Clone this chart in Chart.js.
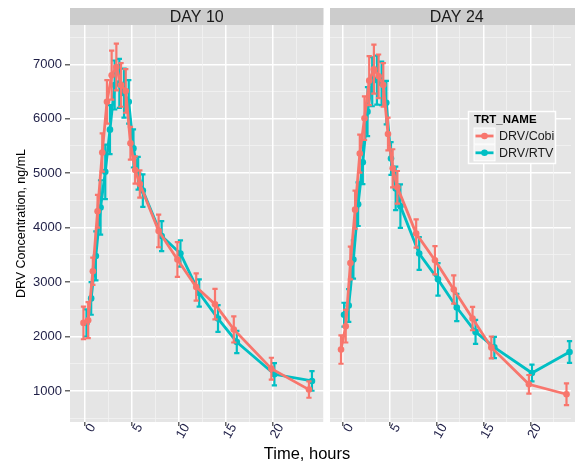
<!DOCTYPE html>
<html><head><meta charset="utf-8">
<script src="https://cdn.jsdelivr.net/npm/chart.js@4/dist/chart.umd.min.js"></script>
<style>html,body{margin:0;padding:0;background:#fff;}canvas{display:block;}</style>
</head><body>
<canvas id="c" width="575" height="461"></canvas>
<script>
// ---- data ----
const TIMES = [0,0.5,1,1.5,2,2.5,3,3.5,4,4.5,5,5.5,6,8,10,12,14,16,20,24];
const PANELS = ['DAY 10','DAY 24'];
const SERIES = ['DRV/Cobi','DRV/RTV'];
const DAY10_COBI     = [2250,2300,3200,4300,5380,6310,6800,6950,6620,6510,5550,5060,4800,3940,3415,2910,2594,2130,1410,1025];
const DAY10_COBI_ERR = [300,330,250,300,350,400,450,430,400,400,300,250,250,300,320,250,280,240,200,150];
const DAY10_RTV      = [2250,2700,3480,4370,5025,5800,6620,6650,6470,6310,5455,5000,4680,3845,3525,2800,2330,1900,1307,1184];
const DAY10_RTV_ERR  = [250,300,450,500,500,450,450,450,450,400,350,300,300,275,240,250,245,205,205,180];
const DAY24_COBI     = [1760,2190,3350,4330,5360,6010,6700,6910,6780,6620,5720,5090,4740,3893,3400,2865,2330,1800,1123,940];
const DAY24_COBI_ERR = [260,300,300,350,350,400,450,450,400,400,300,350,300,260,260,260,215,200,170,200];
const DAY24_RTV      = [2400,2570,3415,4430,5200,6130,6680,6710,6650,6295,5270,4720,4395,3525,3050,2533,2085,1800,1330,1717];
const DAY24_RTV_ERR  = [220,300,350,400,400,450,450,450,400,400,300,400,400,300,300,250,220,195,155,200];
const X_MAJOR = [0,5,10,15,20];
const X_MINOR = [2.5,7.5,12.5,17.5,22.5];
const Y_MAJOR = [1000,2000,3000,4000,5000,6000,7000];
const Y_MINOR = [500,1500,2500,3500,4500,5500,6500,7500];

// ---- style ----
const COLORS = ['#F8766D','#00BFC4'];
const DODGE = [-0.15, 0.17];
const FONT = "'Liberation Sans', Arial, sans-serif";
const TICK_COLOR = '#1e1e46';
const PANEL1 = {left:70, right:323.5};
const PANEL2 = {left:330, right:575};

function pts(vals, d){ return TIMES.map((t,i)=>({x:t+d, y:vals[i]})); }
function ds(label, si, axis, vals, errs){
  return {label, xAxisID:axis, data:pts(vals, DODGE[si]), errors:errs,
    borderColor:COLORS[si], backgroundColor:COLORS[si], borderWidth:2.8,
    pointRadius:3.3, pointBorderWidth:0, pointBackgroundColor:COLORS[si], tension:0, clip:false};
}

const isMajorX = v => X_MAJOR.includes(v);
function xScale(min, max, weight){
  return {type:'linear', position:'bottom', stack:'x', stackWeight:weight, min, max,
    afterBuildTicks: s => { s.ticks = X_MAJOR.concat(X_MINOR).sort((a,b)=>a-b).map(v=>({value:v})); },
    afterFit: s => { s.height = 39; },
    ticks:{autoSkip:false, minRotation:60, maxRotation:60, labelOffset:8, padding:-5,
      color:TICK_COLOR, font:{family:FONT, size:13},
      callback: v => isMajorX(v) ? String(v) : ''},
    grid:{color: c => isMajorX(c.tick.value) ? '#FFFFFF' : '#F2F2F2',
      lineWidth: c => isMajorX(c.tick.value) ? 1.5 : 0.8,
      tickColor: c => isMajorX(c.tick.value) ? '#666666' : 'rgba(0,0,0,0)',
      tickLength:4, drawTicks:true},
    border:{display:false}};
}

const bgPlugin = {
  id:'bg',
  beforeDraw(chart){
    const {ctx, chartArea:a} = chart;
    ctx.save();
    ctx.fillStyle = '#FFFFFF'; ctx.fillRect(0,0,chart.width,chart.height);
    [PANEL1, PANEL2].forEach((p,i)=>{
      ctx.fillStyle = '#E5E5E5'; ctx.fillRect(p.left, a.top, p.right-p.left, a.bottom-a.top);
      ctx.fillStyle = '#CCCCCC'; ctx.fillRect(p.left, 8, p.right-p.left, a.top-8);
      ctx.fillStyle = '#1a1a1a'; ctx.font = '16px ' + FONT;
      ctx.textAlign = 'center'; ctx.textBaseline = 'middle';
      const cx = p.left + (PANEL1.right-PANEL1.left)/2;
      ctx.fillText(PANELS[i], cx, 17.5);
    });
    ctx.restore();
  },
  beforeDatasetsDraw(chart){
    const {ctx, chartArea:a} = chart;
    ctx.save(); ctx.fillStyle = '#FFFFFF';
    ctx.fillRect(PANEL1.right, a.top, PANEL2.left-PANEL1.right, a.bottom-a.top);
    ctx.restore();
  },
  afterDatasetDraw(chart, args){
    const d = chart.data.datasets[args.index];
    const xs = chart.scales[d.xAxisID], ys = chart.scales.y, ctx = chart.ctx;
    ctx.save(); ctx.strokeStyle = d.borderColor; ctx.lineWidth = 2.2; ctx.lineCap='butt';
    d.data.forEach((p,i)=>{
      const e = d.errors[i];
      const x = xs.getPixelForValue(p.x), xl = xs.getPixelForValue(p.x-0.28), xr = xs.getPixelForValue(p.x+0.28);
      const y0 = ys.getPixelForValue(p.y-e), y1 = ys.getPixelForValue(p.y+e);
      ctx.beginPath();
      ctx.moveTo(x,y0); ctx.lineTo(x,y1);
      ctx.moveTo(xl,y0); ctx.lineTo(xr,y0);
      ctx.moveTo(xl,y1); ctx.lineTo(xr,y1);
      ctx.stroke();
    });
    ctx.restore();
  },
  afterDraw(chart){
    const ctx = chart.ctx;
    ctx.save();
    // x axis title
    ctx.fillStyle = '#000'; ctx.font = '16.5px ' + FONT; ctx.textAlign='center'; ctx.textBaseline='middle';
    ctx.fillText('Time, hours', 307, 454);
    // legend
    const L = {x:468.5, y:111.5, w:87, h:52};
    ctx.fillStyle = '#E5E5E5'; ctx.fillRect(L.x, L.y, L.w, L.h);
    ctx.strokeStyle = '#FFFFFF'; ctx.lineWidth = 1.5; ctx.strokeRect(L.x, L.y, L.w, L.h);
    ctx.fillStyle = '#000'; ctx.font = 'bold 11.5px ' + FONT; ctx.textAlign='left';
    ctx.fillText('TRT_NAME', 474, 120);
    SERIES.forEach((s,i)=>{
      const cy = 136 + i*16.8;
      ctx.fillStyle = '#F2F2F2'; ctx.fillRect(474, cy-8, 21, 16);
      ctx.strokeStyle = '#FFFFFF'; ctx.lineWidth = 1; ctx.strokeRect(474, cy-8, 21, 16);
      ctx.strokeStyle = COLORS[i]; ctx.lineWidth = 2.8;
      ctx.beginPath(); ctx.moveTo(475.5, cy); ctx.lineTo(493.5, cy); ctx.stroke();
      ctx.fillStyle = COLORS[i]; ctx.beginPath(); ctx.arc(484.5, cy, 3.3, 0, Math.PI*2); ctx.fill();
      ctx.fillStyle = '#1a1a1a'; ctx.font = '12.5px ' + FONT;
      ctx.fillText(s, 499, cy+0.5);
    });
    ctx.restore();
  }
};

new Chart(document.getElementById('c'), {
  type:'line',
  data:{datasets:[
    ds(SERIES[0],0,'x1',DAY10_COBI,DAY10_COBI_ERR),
    ds(SERIES[1],1,'x1',DAY10_RTV,DAY10_RTV_ERR),
    ds(SERIES[0],0,'x2',DAY24_COBI,DAY24_COBI_ERR),
    ds(SERIES[1],1,'x2',DAY24_RTV,DAY24_RTV_ERR)
  ]},
  options:{
    responsive:false, animation:false, devicePixelRatio:1,
    layout:{padding:{top:25,left:0,right:0,bottom:0}},
    plugins:{legend:{display:false}, tooltip:{enabled:false}},
    scales:{
      y:{type:'linear', position:'left', min:430, max:7722,
        afterBuildTicks: s => { s.ticks = Y_MAJOR.concat(Y_MINOR).sort((a,b)=>a-b).map(v=>({value:v})); },
        afterFit: s => { s.width = 70; },
        ticks:{autoSkip:false, padding:3, color:TICK_COLOR, font:{family:FONT, size:13},
          callback: v => Y_MAJOR.includes(v) ? String(v) : ''},
        grid:{color: c => Y_MAJOR.includes(c.tick.value) ? '#FFFFFF' : '#F2F2F2',
          lineWidth: c => Y_MAJOR.includes(c.tick.value) ? 1.5 : 0.8,
          tickColor: c => Y_MAJOR.includes(c.tick.value) ? '#666666' : 'rgba(0,0,0,0)',
          tickLength:5, drawTicks:true},
        border:{display:false},
        title:{display:true, text:'DRV Concentration, ng/mL', color:'#000',
          font:{family:FONT, size:12.5}, padding:{top:14, bottom:0}}
      },
      x1: xScale(-1.584, 25.528, 256.75),
      x2: xScale(-1.885, 24.329, 248.25)
    }
  },
  plugins:[bgPlugin]
});
</script>
</body></html>
